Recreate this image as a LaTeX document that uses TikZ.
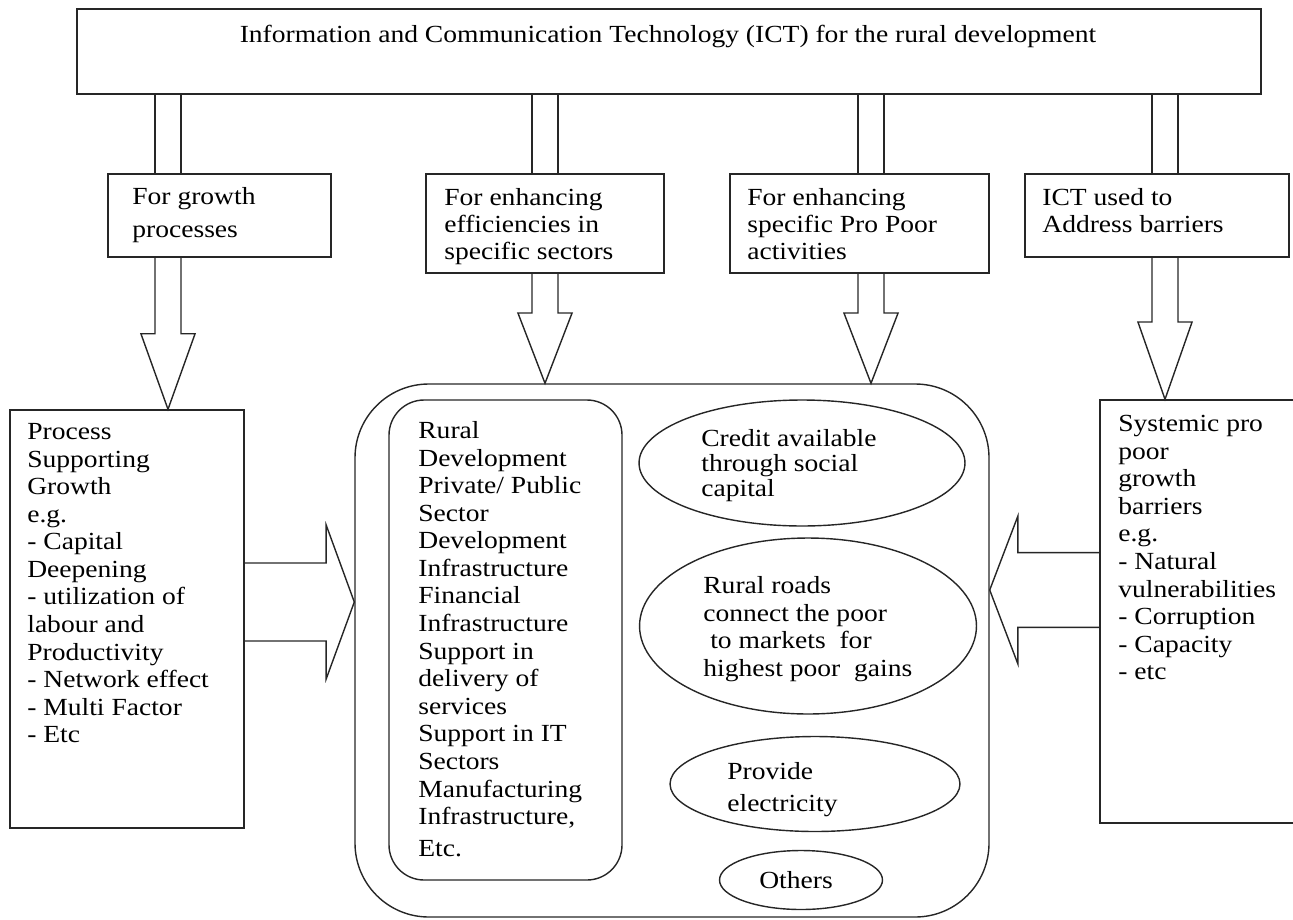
\documentclass[tikz,border=0pt]{standalone}
\usepackage{fontspec}
\setmainfont{Liberation Serif}[FakeStretch=1.12]
\usetikzlibrary{calc,fit,shapes.geometric}

\tikzset{
  box/.style={draw=black!85, line width=0.8pt, inner sep=0pt},
  oval/.style={draw=black!85, line width=0.8pt, ellipse, inner sep=0pt},
  txt/.style={align=left, inner sep=0pt, anchor=north west, font=\fontsize{14}{15.7}\selectfont},
  fat/.style={draw=black!85, line width=0.8pt, line join=miter},
}

% hollow block arrow: shaft start, tip, half shaft, half head, head length
\newcommand{\fatarrow}[5]{%
  \coordinate (fah) at ($(#2)!#5!(#1)$);
  \draw[fat] ($(#1)!#3!90:(#2)$) -- ($(fah)!#3!90:(#2)$) -- ($(fah)!#4!90:(#2)$) -- (#2)
    -- ($(fah)!#4!-90:(#2)$) -- ($(fah)!#3!-90:(#2)$) -- ($(#1)!#3!-90:(#2)$);
}

\begin{document}
\begin{tikzpicture}[x=0.02cm, y=-0.02cm]
\useasboundingbox (0,0) rectangle (1293,919);
\coordinate (c1) at (168,0); \coordinate (c2) at (545,0); \coordinate (c3) at (871,0); \coordinate (c4) at (1165,0);
\coordinate (r1) at (0,602); \coordinate (r2) at (0,590);

% banner
\node[box, fit={(77,9) (1261,94)}] (ict) {};
\node[txt, anchor=north] (icttxt) at (668,25) {Information and Communication Technology (ICT) for the rural development};

% four ways ICT helps
\node[box, fit={(108,174) (331,257)}] (grow) {};
\node[box, fit={(426,174) (664,273)}] (eff) {};
\node[box, fit={(730,174) (989,273)}] (act) {};
\node[box, fit={(1025,174) (1289,257)}] (bar) {};
\node[txt, font=\fontsize{14}{18.8}\selectfont] (growtxt) at (132,187) {For growth\\processes};
\node[txt, font=\fontsize{14}{15.4}\selectfont] (efftxt) at (444,188) {For enhancing\\efficiencies in\\specific sectors};
\node[txt, font=\fontsize{14}{15.4}\selectfont] (acttxt) at (747,188) {For enhancing\\specific Pro Poor\\activities};
\node[txt, font=\fontsize{14}{15.4}\selectfont] (bartxt) at (1042,188) {ICT used to\\Address barriers};

\foreach \b/\c in {grow/c1, eff/c2, act/c3, bar/c4}
  \draw[fat] ($(ict.south -| \c)+(-13,0)$) -- ($(\b.north -| \c)+(-13,0)$)
             ($(ict.south -| \c)+(13,0)$) -- ($(\b.north -| \c)+(13,0)$);

% lower row
\node[box, fit={(10,410) (244,828)}] (proc) {};
\node[txt] (proctxt) at (27,423) {Process\\Supporting\\Growth\\e.g.\\- Capital\\Deepening\\- utilization of\\labour and\\Productivity\\- Network effect\\- Multi Factor\\- Etc};

\node[box, rounded corners=42pt, fit={(355,384) (989,917)}] (hub) {};
\node[box, rounded corners=20pt, fit={(389,400) (622,880)}] (sect) {};
\node[txt] (secttxt) at (418,421) {Rural\\Development\\Private/ Public\\Sector\\Development\\Infrastructure\\Financial\\Infrastructure\\Support in\\delivery of\\services\\Support in IT\\Sectors\\Manufacturing\\Infrastructure,\\[2.5pt]Etc.};

\node[oval, minimum width=6.52cm, minimum height=2.52cm] (credit) at (802,463) {};
\node[txt, font=\fontsize{14}{14.3}\selectfont] (credittxt) at (701,429) {Credit available\\through social\\capital};
\node[oval, minimum width=6.74cm, minimum height=3.52cm] (roads) at (808,626) {};
\node[txt] (roadstxt) at (703,576) {Rural roads\\connect the poor\\\ to markets\ \ for\\highest poor\ \ gains};
\node[oval, minimum width=5.8cm, minimum height=1.9cm] (elec) at (815,784) {};
\node[txt, font=\fontsize{14}{18.2}\selectfont] (electxt) at (727,762) {Provide\\electricity};
\node[oval, minimum width=3.26cm, minimum height=1.18cm] (others) at (801,880) {};
\node[txt, anchor=center] (otherstxt) at (796,880) {Others};

\node[box, fit={(1100,400) (1298,823)}] (sys) {};
\node[txt] (systxt) at (1118,415) {Systemic pro\\poor\\growth\\barriers\\e.g.\\- Natural\\vulnerabilities\\- Corruption\\- Capacity\\- etc};

% block arrows
\fatarrow{grow.south -| c1}{proc.north -| c1}{7.4pt}{15.4pt}{43pt}
\fatarrow{eff.south -| c2}{hub.north -| c2}{7.4pt}{15.4pt}{40pt}
\fatarrow{act.south -| c3}{hub.north -| c3}{7.4pt}{15.4pt}{40pt}
\fatarrow{bar.south -| c4}{sys.north -| c4}{7.4pt}{15.4pt}{44pt}
\fatarrow{proc.east |- r1}{hub.west |- r1}{22.2pt}{43.8pt}{16pt}
\fatarrow{sys.west |- r2}{hub.east |- r2}{21.3pt}{42pt}{16pt}
\end{tikzpicture}
\end{document}
